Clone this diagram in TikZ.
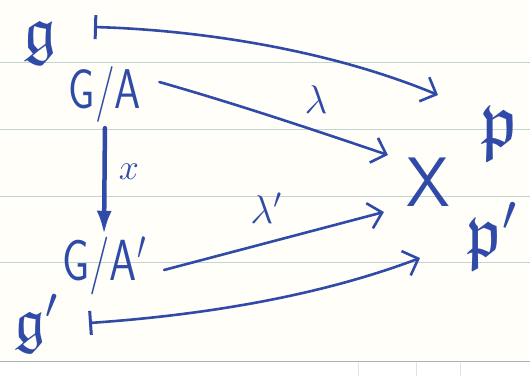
\RequirePackage{fix-cm}
\documentclass[tikz,border=0pt]{standalone}
\usepackage{amssymb}
\usetikzlibrary{arrows.meta,calc}
\definecolor{ink}{RGB}{48,74,168}
\definecolor{paper}{RGB}{255,254,248}
\definecolor{ruling}{RGB}{196,212,212}
\definecolor{margin}{RGB}{238,220,225}
\begin{document}
\begin{tikzpicture}[x=1pt,y=-1pt,line cap=round,
  lab/.style={text=ink,inner sep=0pt},
  fs/.style={font=\fontsize{#1}{#1}\selectfont},
  sfs/.style={font=\fontsize{#1}{#1}\selectfont\sffamily},
  pen/.style={draw=ink,line width=2.6pt},
  tip/.style={-{Straight Barb[length=13pt,width=26pt,line width=2.6pt]}},
  mapsto/.style={{Bar[width=24pt,line width=3pt]}-{Straight Barb[length=13pt,width=26pt,line width=2.6pt]}}]
% paper
\useasboundingbox (0,0) rectangle (530,376);
\fill[paper] (0,0) rectangle (530,361);
\fill[white] (0,361) rectangle (530,376);
\foreach \yy in {62,129,196,262}{\draw[ruling,line width=0.9pt] (0,\yy) -- (530,\yy);}
\draw[ruling!85!black,line width=1pt] (0,361) -- (530,361);
\foreach \xx in {358,416,460}{\draw[margin,line width=0.6pt] (\xx,362) -- (\xx,376);}
% nodes
\node[lab,fs=66] (g) at (40,43) {$\mathfrak{g}$};
\node[lab,sfs=56] (GA) at (105,94) {\scalebox{0.75}[1]{G/A}};
\node[lab,sfs=70] (X) at (428,182) {X};
\node[lab,fs=76] (p) at (500,134) {$\mathfrak{p}$};
\node[lab,sfs=58] (GAp) at (104,266) {\scalebox{0.75}[1]{G/A$'$}};
\node[lab,fs=62] (gp) at (36,324) {$\mathfrak{g}'$};
\node[lab,fs=72] (pp) at (492,236) {$\mathfrak{p}'$};
% labels
\node[lab,fs=40] (lam) at (316,100) {$\lambda$};
\node[lab,fs=40] (lamp) at (266,208) {$\lambda'$};
\node[lab,fs=36] (kap) at (129,172) {$x$};
% connector ends
\coordinate (gbar) at ($(g)+(54,-16)$);
\coordinate (ptip) at ($(p)+(-62,-39)$);
\coordinate (gpbar) at ($(gp)+(53,-1)$);
\coordinate (pptip) at ($(pp)+(-72,22)$);
% connectors
\draw[pen,mapsto] (gbar) .. controls (200,30) and (330,50) .. (ptip);
\draw[pen,tip] ($(GA.east)+(18,-12)$) .. controls (240,105) and (320,132) .. ($(X.west)+(-18,-27)$);
\draw[pen,tip] ($(GAp.east)+(18,4)$) -- ($(X.west)+(-22,30)$);
\draw[pen,mapsto] (gpbar) .. controls (220,314) and (330,292) .. (pptip);
\draw[draw=ink,line width=4.5pt,-{Latex[length=24pt,width=15pt]},shorten <=6pt,shorten >=2pt] (GA.south) -- (GAp.north);
\end{tikzpicture}
\end{document}
